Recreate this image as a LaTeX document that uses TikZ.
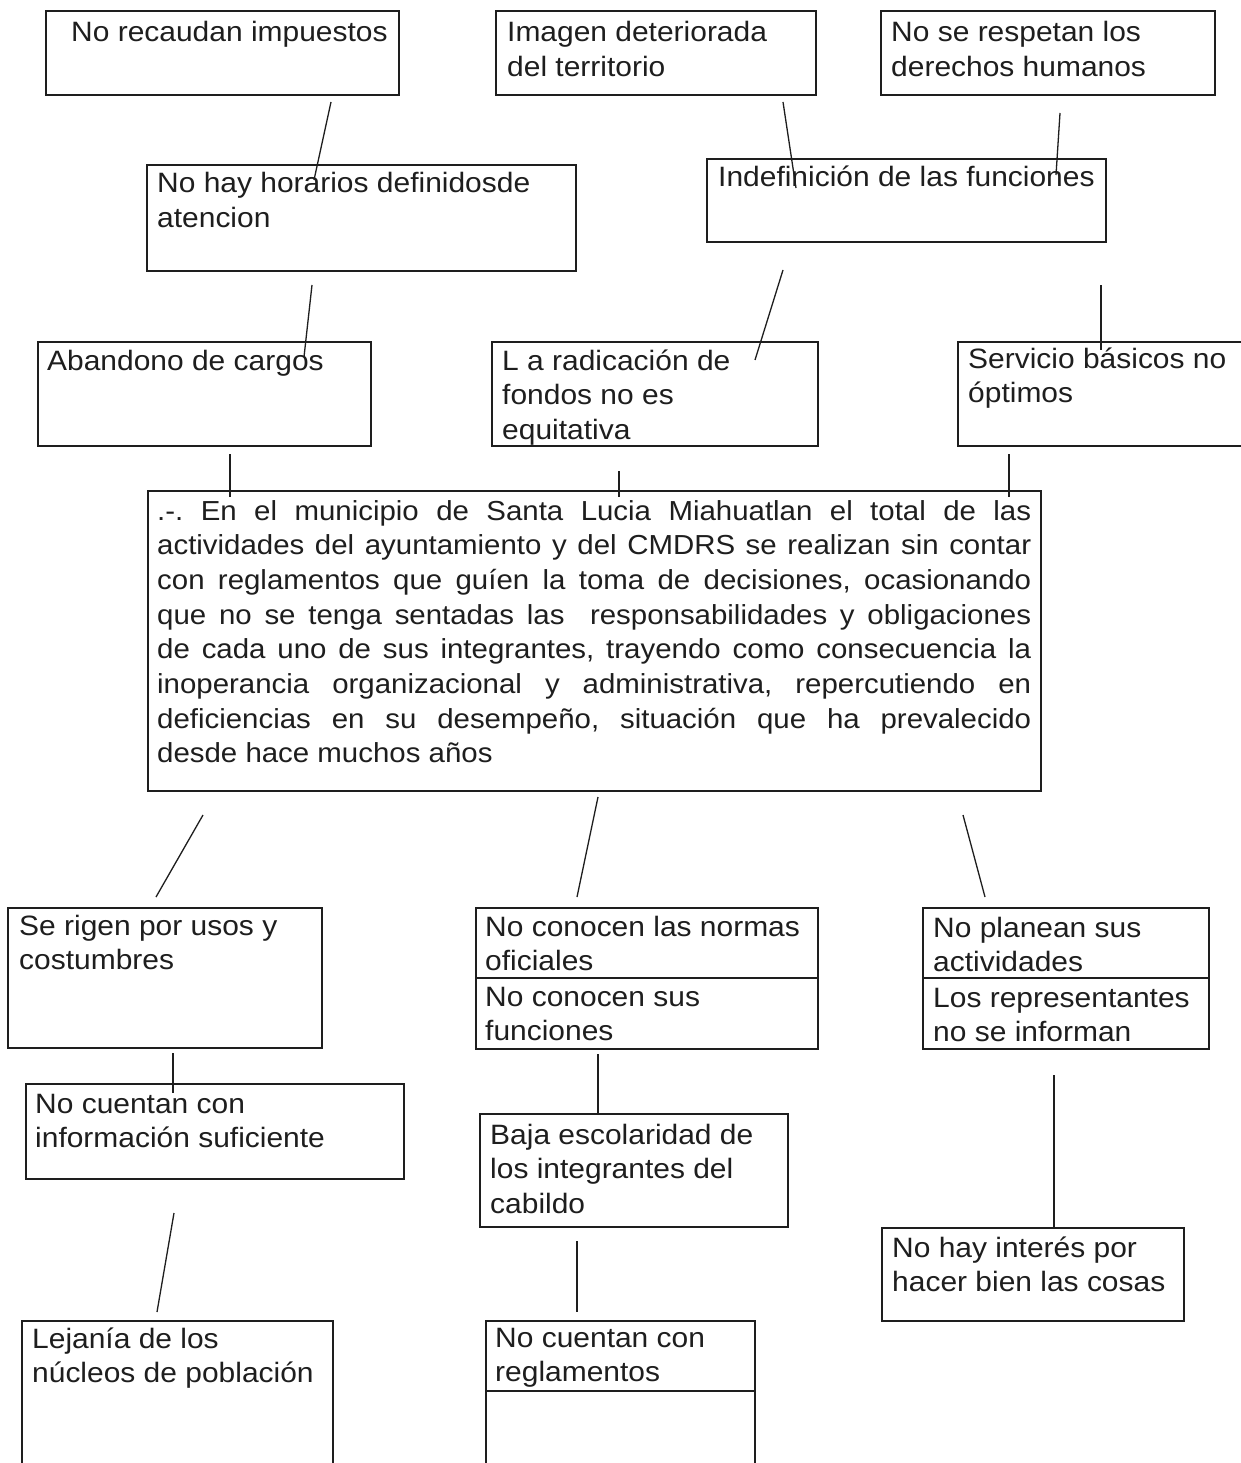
\documentclass[tikz,border=0pt]{standalone}
\usepackage{fontspec}
\setmainfont[FakeStretch=1.07]{Liberation Sans}
\frenchspacing
\definecolor{ink}{HTML}{1E1E1E}
\newcommand\myfs{\fontsize{28pt}{34.5pt}\selectfont}
\newcommand\mymainfs{\fontsize{27.5pt}{34.7pt}\selectfont}
\newcommand\txtl[1]{\parbox[t]{600pt}{#1}}
\newcommand\mline[1]{\hbox to 874pt{#1}}
\begin{document}
\begin{tikzpicture}[x=1pt,y=-1pt,
  boxst/.style={draw=ink, line width=2.2pt, inner sep=0pt, outer sep=0pt, anchor=north west},
  thinbox/.style={boxst, line width=1.4pt},
  txt/.style={inner sep=0pt, anchor=base west, font=\myfs, text=ink},
  link/.style={draw=ink, line width=1.3pt},
  divline/.style={draw=ink, line width=2pt}]
\useasboundingbox[fill=white] (0,0) rectangle (1240,1463);

% ---------- boxes ----------
\node[boxst, minimum width=353pt, minimum height=84pt]  (b1)  at (46,11) {};
\node[boxst, minimum width=320pt, minimum height=84pt]  (b2)  at (496,11) {};
\node[boxst, minimum width=334pt, minimum height=84pt]  (b3)  at (881,11) {};
\node[boxst, minimum width=429pt, minimum height=106pt] (b4)  at (147,165) {};
\node[boxst, minimum width=399pt, minimum height=83pt]  (b5)  at (707,159) {};
\node[boxst, minimum width=333pt, minimum height=104pt] (b6)  at (38,342) {};
\node[boxst, minimum width=326pt, minimum height=104pt] (b7)  at (492,342) {};
\node[boxst, minimum width=292pt, minimum height=104pt] (b8)  at (958,342) {};
\node[boxst, minimum width=893pt, minimum height=300pt] (bm)  at (148,491) {};
\node[boxst, minimum width=314pt, minimum height=140pt] (b9)  at (8,908) {};
\node[boxst, minimum width=342pt, minimum height=141pt] (b10) at (476,908) {};
\node[boxst, minimum width=286pt, minimum height=141pt] (b11) at (923,908) {};
\node[boxst, minimum width=378pt, minimum height=95pt]  (b12) at (26,1084) {};
\node[boxst, minimum width=308pt, minimum height=113pt] (b13) at (480,1114) {};
\node[boxst, minimum width=302pt, minimum height=93pt]  (b14) at (882,1228) {};
\node[boxst, minimum width=311pt, minimum height=159pt] (b15) at (22,1321) {};
\node[thinbox, minimum width=269pt, minimum height=159pt] (b16) at (486,1321) {};

% dividers
\draw[divline] (b10.west |- 0,978) -- (b10.east |- 0,978);
\draw[divline] (b11.west |- 0,978) -- (b11.east |- 0,978);
\draw[ink, line width=1.4pt] (b16.west |- 0,1391) -- (b16.east |- 0,1391);

% ---------- texts ----------
\node[txt] (t1)  at (71,42)   {\txtl{No recaudan impuestos}};
\node[txt] (t2)  at (507,42)  {\txtl{Imagen deteriorada\\del territorio}};
\node[txt] (t3)  at (891,42)  {\txtl{No se respetan los\\derechos humanos}};
\node[txt] (t4)  at (157,193) {\txtl{No hay horarios definidosde\\atencion}};
\node[txt] (t5)  at (718,187) {\txtl{Indefinición de las funciones}};
\node[txt] (t6)  at (47,370)  {\txtl{Abandono de cargos}};
\node[txt] (t7)  at (502,370) {\txtl{L a radicación de\\fondos no es\\equitativa}};
\node[txt] (t8)  at (968,368) {\txtl{Servicio básicos no\\óptimos}};
\node[txt, font=\mymainfs] (tm) at (157,520) {\vtop{%
\mline{.-. En el municipio de Santa Lucia Miahuatlan el total de las}
\mline{actividades del ayuntamiento y del CMDRS se realizan sin contar}
\mline{con reglamentos que guíen la toma de decisiones, ocasionando}
\mline{que no se tenga sentadas las\ \ responsabilidades y obligaciones}
\mline{de cada uno de sus integrantes, trayendo como consecuencia la}
\mline{inoperancia organizacional y administrativa, repercutiendo en}
\mline{deficiencias en su desempeño, situación que ha prevalecido}
\hbox{desde hace muchos años}}};
\node[txt] (t9)   at (19,935)   {\txtl{Se rigen por usos y\\costumbres}};
\node[txt] (t10a) at (485,936)  {\txtl{No conocen las normas\\oficiales}};
\node[txt] (t10b) at (485,1006) {\txtl{No conocen sus\\funciones}};
\node[txt] (t11a) at (933,937)  {\txtl{No planean sus\\actividades}};
\node[txt] (t11b) at (933,1007) {\txtl{Los representantes\\no se informan}};
\node[txt] (t12)  at (35,1113)  {\txtl{No cuentan con\\información suficiente}};
\node[txt] (t13)  at (490,1144) {\txtl{Baja escolaridad de\\los integrantes del\\cabildo}};
\node[txt] (t14)  at (892,1257) {\txtl{No hay interés por\\hacer bien las cosas}};
\node[txt] (t15)  at (32,1348)  {\txtl{Lejanía de los\\núcleos de población}};
\node[txt] (t16)  at (495,1347) {\txtl{No cuentan con\\reglamentos}};

% ---------- connector end points ----------
\coordinate (c1a) at (331,102);  \coordinate (c1b) at (314,180);
\coordinate (c2a) at (312,285);  \coordinate (c2b) at (304,357);
\coordinate (c3a) at (783,102);  \coordinate (c3b) at (796,188);
\coordinate (c4a) at (1060,113); \coordinate (c4b) at (1056,175);
\coordinate (c5a) at (783,270);  \coordinate (c5b) at (755,360);
\coordinate (c6a) at (1101,285); \coordinate (c6b) at (1101,350);
\coordinate (k1a) at (230,454);  \coordinate (k1b) at (230,497);
\coordinate (k2a) at (619,471);  \coordinate (k2b) at (619,497);
\coordinate (k3a) at (1009,454); \coordinate (k3b) at (1009,497);
\coordinate (d1a) at (203,815);  \coordinate (d1b) at (156,897);
\coordinate (d2a) at (598,797);  \coordinate (d2b) at (577,897);
\coordinate (d3a) at (963,815);  \coordinate (d3b) at (985,897);
\coordinate (e1a) at (173,1053); \coordinate (e1b) at (173,1093);
\coordinate (e2a) at (174,1213); \coordinate (e2b) at (157,1312);
\coordinate (e3a) at (598,1054); \coordinate (e3b) at (598,1114);
\coordinate (e4a) at (577,1241); \coordinate (e4b) at (577,1312);
\coordinate (e5a) at (1054,1075);\coordinate (e5b) at (1054,1228);

% ---------- connectors ----------
\foreach \p in {c1,c2,c3,c4,c5,c6,k1,k2,k3,d1,d2,d3,e1,e2,e3,e4,e5}
  \draw[link] (\p a) -- (\p b);
\end{tikzpicture}
\end{document}
